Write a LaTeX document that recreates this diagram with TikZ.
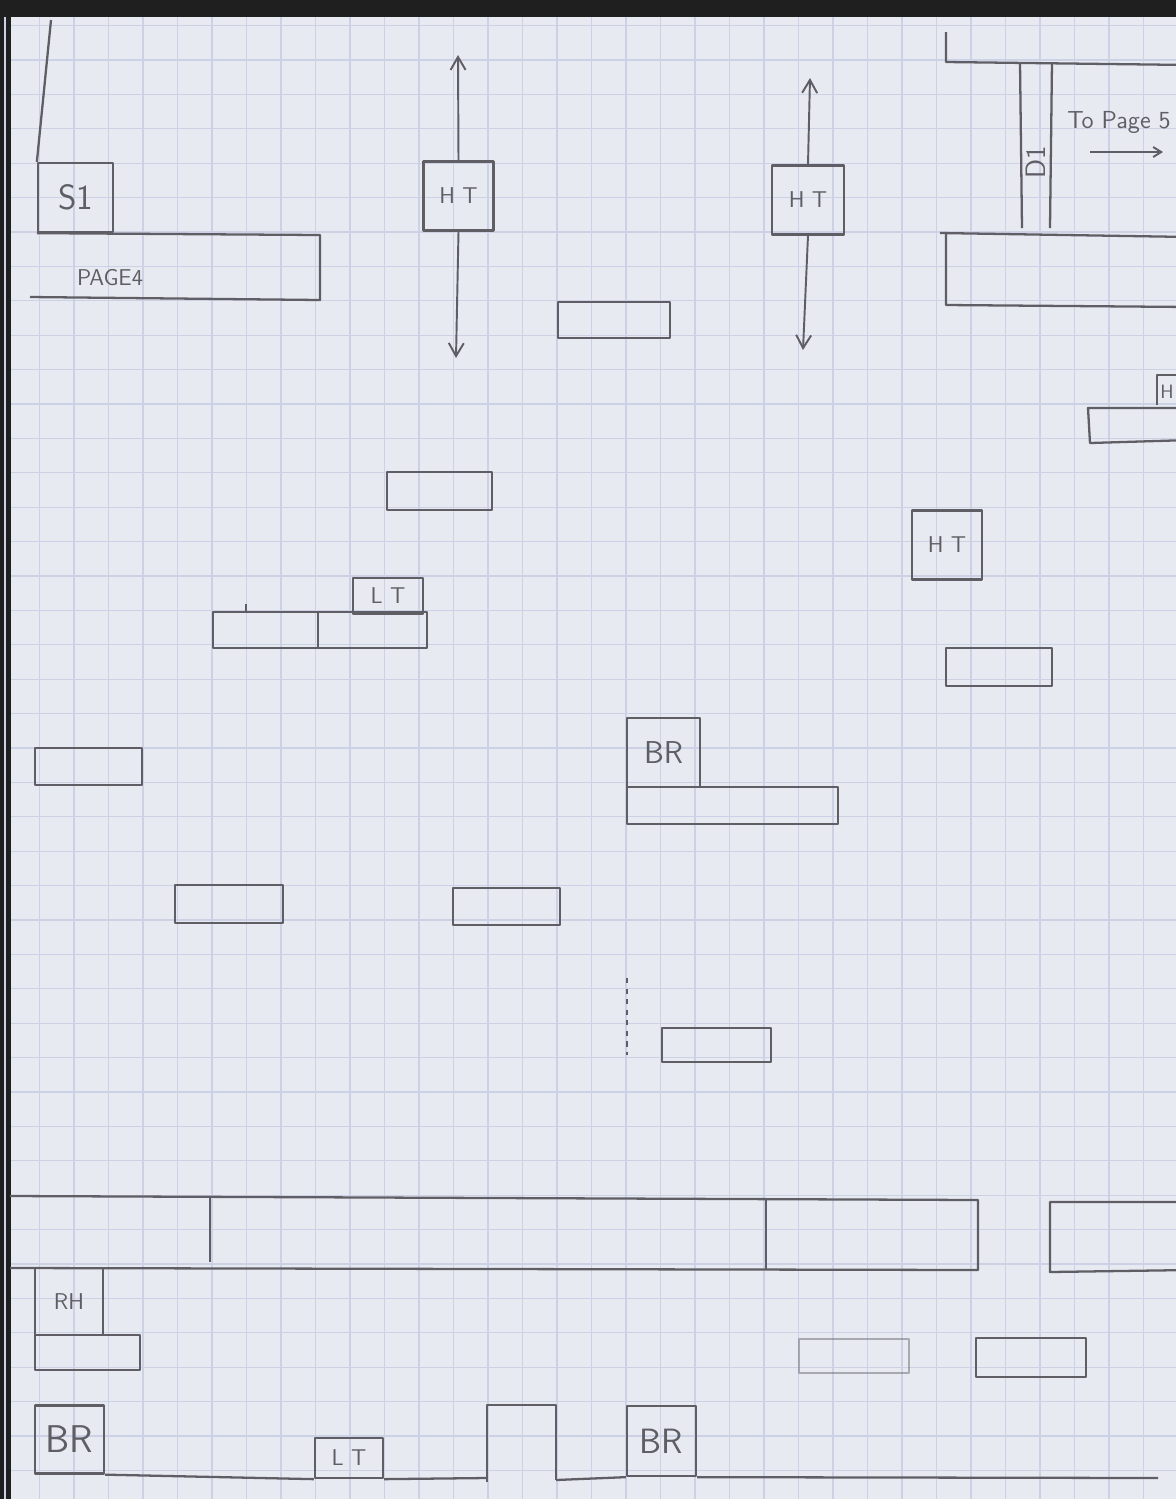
\documentclass[tikz,border=0pt]{standalone}
\usetikzlibrary{arrows.meta}
\definecolor{paper}{RGB}{232,234,242}
\definecolor{gridc}{RGB}{204,209,230}
\definecolor{pencil}{RGB}{94,94,100}

\begin{document}
\begin{tikzpicture}[x=0.02cm, y=-0.02cm,
  wall/.style={draw=pencil, line width=1.3pt, line join=round},
  tag/.style={text=pencil, font=\sffamily\fontsize{13}{13}\selectfont},
  tagbox/.style={wall, tag, inner sep=0pt, minimum width=1.4cm, minimum height=1.38cm},
  move/.style={draw=pencil, line width=1.1pt, -{Straight Barb[length=2.6mm, width=3mm]}}]
  \useasboundingbox (0,0) rectangle (1176,1499);
  \clip (0,0) rectangle (1176,1499);

  % graph paper
  \fill[black!88] (0,0) rectangle (1176,1499);
  \fill[paper] (11,17) rectangle (1176,1499);
  \foreach \k in {0,...,33} \draw[gridc, line width=0.7pt] ({5+34.5*\k},17) -- ({5+34.5*\k},1499);
  \foreach \k in {0,...,42} \draw[gridc, line width=0.7pt] (11,{25.6+34.4*\k}) -- (1176,{25.6+34.4*\k});

  % top left: start and ledge to page 4
  \node[tagbox, minimum width=1.5cm, font=\sffamily\fontsize{20}{20}\selectfont] (s1) at (75.5,197.5) {S1};
  \draw[wall] (51,20) -- (s1.north west);
  \draw[wall] (s1.south west) -- (320,235) -- (320,300) -- (30,297);
  \node[tag] (pg4) at (110,278) {PAGE4};

  % high targets with their moves
  \node[tagbox] (ht1) at (458.5,196) {H T};
  \coordinate (ht1up) at (458,55);
  \coordinate (ht1dn) at (456,358);
  \draw[move] (ht1.north) -- (ht1up);
  \draw[move] (ht1.south) -- (ht1dn);
  \node[tagbox, minimum width=1.44cm] (ht2) at (808,200) {H T};
  \coordinate (ht2up) at (810,78);
  \coordinate (ht2dn) at (803,350);
  \draw[move] (ht2.north) -- (ht2up);
  \draw[move] (ht2.south) -- (ht2dn);
  \node[tagbox] (ht3) at (947,545) {H T};

  % top right: door and exit
  \draw[wall] (946,32) -- (946,62) -- (1190,65);
  \draw[wall] (1020,62) -- (1022,228);
  \draw[wall] (1052,62) -- (1050,228);
  \node[tag, rotate=90, font=\sffamily\fontsize{16}{16}\selectfont] (d1) at (1036,162) {D1};
  \node[tag, font=\sffamily\fontsize{14}{14}\selectfont] (pg5) at (1119,122) {To Page 5};
  \coordinate (pg5a) at (1090,152);
  \coordinate (pg5b) at (1163,152);
  \draw[move, -{Straight Barb[length=1.6mm, width=2mm]}] (pg5a) -- (pg5b);
  \draw[wall] (940,233) -- (1190,237);
  \draw[wall] (946,233) -- (946,305) -- (1190,307);
  \draw[wall] (1157,405) -- (1157,375) -- (1190,375);
  \node[tag, font=\sffamily\fontsize{11}{11}\selectfont] (htcut) at (1167,392) {H};
  \draw[wall] (1190,408) -- (1088,408) -- (1090,443) -- (1190,440);

  % floating platforms
  \draw[wall] (558,302) rectangle (670,338);
  \draw[wall] (387,472) rectangle (492,510);
  \node[tagbox, minimum height=0.72cm] (lt1) at (388,596) {L T};
  \draw[wall] (213,612) rectangle (427,648);
  \draw[wall] (318,612) -- (318,648);
  \draw[wall] (246,604) -- (246,612);
  \draw[wall] (946,648) rectangle (1052,686);
  \draw[wall] (35,748) rectangle (142,785);
  \node[tagbox, minimum width=1.46cm, font=\sffamily\fontsize{18}{18}\selectfont] (br1) at (663.5,752.5) {BR};
  \draw[wall] (627,787) rectangle (838,824);
  \draw[wall] (175,885) rectangle (283,923);
  \draw[wall] (453,888) rectangle (560,925);
  \draw[pencil, line width=0.8pt, dashed] (627,978) -- (627,1055);
  \draw[wall] (662,1028) rectangle (771,1062);

  % bottom band
  \draw[wall] (10,1196) -- (978,1200) -- (978,1270) -- (10,1268);
  \draw[wall] (210,1196) -- (210,1262);
  \draw[wall] (766,1200) -- (766,1270);
  \draw[wall] (1190,1202) -- (1050,1202) -- (1050,1272) -- (1190,1270);

  \node[tagbox, minimum width=1.36cm, minimum height=1.34cm] (rh) at (69,1301.5) {RH};
  \draw[wall] (35,1335) rectangle (140,1370);
  \draw[wall, opacity=0.45] (799,1339) rectangle (909,1373);
  \draw[wall] (976,1338) rectangle (1086,1377);

  % floor
  \node[tagbox, minimum width=1.38cm, minimum height=1.36cm, font=\sffamily\fontsize{22}{22}\selectfont] (br2) at (69.5,1439.5) {BR};
  \node[tagbox, minimum width=1.36cm, minimum height=0.8cm] (lt2) at (349,1458) {L T};
  \node[tagbox, minimum width=1.38cm, minimum height=1.4cm, font=\sffamily\fontsize{20}{20}\selectfont] (br3) at (661.5,1441) {BR};
  \draw[wall] (br2.south east) -- (lt2.south west);
  \draw[wall] (lt2.south east) -- (487,1478);
  \draw[wall] (487,1482) -- (487,1405) -- (556,1405) -- (556,1480);
  \draw[wall] (556,1480) -- (br3.south west);
  \draw[wall] (br3.south east) -- (1158,1478);
\end{tikzpicture}
\end{document}
